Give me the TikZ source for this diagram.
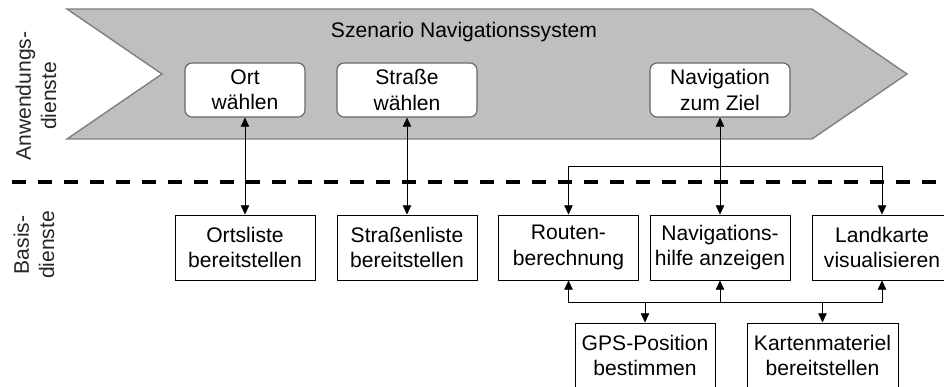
\documentclass[tikz,border=0pt]{standalone}
\usepackage{fontspec}
\setmainfont{Liberation Sans}
\usepackage{tikz}
\usetikzlibrary{arrows.meta,positioning,calc}

\begin{document}
\begin{tikzpicture}[font=\fontsize{15}{18}\selectfont,>={Triangle[width=6pt,length=6.5pt]},
 app/.style={draw=black!60,fill=white,rounded corners=5pt,align=center,inner sep=1pt,minimum width=35mm,minimum height=13.5mm,line width=0.8pt},
 base/.style={draw,align=center,inner sep=1pt,minimum width=35mm,minimum height=16.25mm,line width=0.7pt},
 side/.style={rotate=90,align=center,text=black!85}]
\useasboundingbox (0,0) rectangle (23.6,9.675);
\clip (0,0) rectangle (23.6,9.675);
% Anwendungsdienste
\draw[draw=black!50,fill=black!25,line width=1pt] (1.675,9.45) -- (20.3,9.45) -- (22.675,7.825) -- (20.3,6.2) -- (1.675,6.2) -- (4.05,7.825) -- cycle;
\node (title) at (11.6,8.875) {Szenario Navigationssystem};
\node[app,minimum width=30mm] (ort) at (6.125,7.425) {Ort\\wählen};
\node[app] (str) at (10.175,7.425) {Straße\\wählen};
\node[app] (nav) at (18,7.425) {Navigation\\zum Ziel};
\node[side] (anw) at (0.9,7.275) {Anwendungs-\\dienste};
% Trennlinie
\draw[line width=2.2pt,dash pattern=on 0.35cm off 0.3cm] (0.3,5.125) -- (23.6,5.125);
\node[side] (bas) at (0.85,3.55) {Basis-\\dienste};
% Basisdienste
\node[base] (ortl) at (6.125,3.4875) {Ortsliste\\bereitstellen};
\node[base] (strl) at (10.175,3.4875) {Straßenliste\\bereitstellen};
\node[base] (route) at (14.2125,3.4875) {Routen-\\berechnung};
\node[base] (hilfe) at (18,3.4875) {Navigations-\\hilfe anzeigen};
\node[base] (karte) at (22.05,3.4875) {Landkarte\\visualisieren};
\node[base] (gps) at (16.125,0.7875) {GPS-Position\\bestimmen};
\node[base,minimum width=37.75mm] (mat) at (20.5625,0.7875) {Kartenmateriel\\bereitstellen};
\coordinate (top) at (18,5.525);
\coordinate (bus) at (18,2.125);
\draw[<->] (ort) -- (ortl);
\draw[<->] (str) -- (strl);
\draw[<->] (nav) -- (hilfe);
\draw[->] (top) -| (route);
\draw[->] (top) -| (karte);
\draw[->] (bus) -| (route);
\draw[->] (bus) -| (karte);
\draw[->] (bus) -- (hilfe);
\draw[->] (gps.north |- bus) -- (gps);
\draw[->] (mat.north |- bus) -- (mat);
\end{tikzpicture}
\end{document}
